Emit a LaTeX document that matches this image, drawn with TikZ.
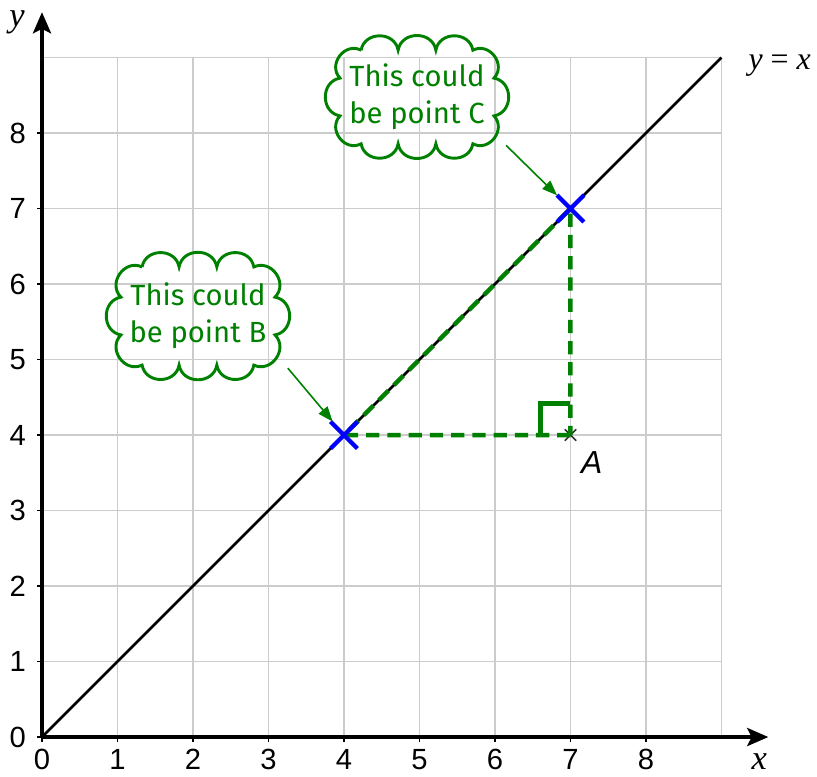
\documentclass[tikz,border=0pt]{standalone}
\usepackage{fontspec}
\setmainfont{Liberation Serif}
\newfontfamily\ticksans{Liberation Sans}
\newfontfamily\notesans{Fira Sans}
\usepackage{tikz}
\usetikzlibrary{arrows.meta, shapes.misc}
\definecolor{notegreen}{RGB}{0,128,0}

% bumpy outline round a note, #1 = node, #2 = half height
\newcommand{\cloudaround}[2]{%
  \draw[cloudline] ([shift={(-0.74,#2)}]#1.center)
    \foreach \cx/\cy in {-0.25/#2, 0.25/#2, 0.74/#2, 1.02/0.25, 1.02/-0.25, 0.74/-#2, 0.25/-#2, -0.25/-#2, -0.74/-#2, -1.02/-0.25, -1.02/0.25, -0.74/#2}
      {to[bend left=80, looseness=1.35] ([shift={(\cx,\cy)}]#1.center)};}

\begin{document}
\begin{tikzpicture}[
    gridline/.style={gray!40, line width=0.6pt},
    axis/.style={line width=1.3pt, -{Stealth[length=2.8mm, width=2.4mm, inset=0.6mm]}},
    ticklabel/.style={font=\ticksans\fontsize{11}{13}\selectfont},
    axislabel/.style={font=\fontsize{13}{15}\selectfont\itshape},
    note/.style={text=notegreen, align=center, font=\notesans\fontsize{11}{14}\selectfont},
    cloudline/.style={draw=notegreen, line width=1.1pt},
    pointer/.style={notegreen, line width=0.6pt, -{Triangle[length=2mm, width=1.5mm]}},
    dashline/.style={notegreen, line width=1.7pt, dash pattern=on 5pt off 3pt},
    bluecross/.style={cross out, draw=blue, line width=1.6pt, minimum size=0.3cm, inner sep=0pt},
    smallcross/.style={cross out, draw=black!80, line width=0.6pt, minimum size=0.13cm, inner sep=0pt}
]
    \useasboundingbox (-0.556,-0.517) rectangle (10.265,9.762);

    % Grid and axes
    \draw[gridline] (0,0) grid (9,9);
    \draw[axis] (0,0) -- (9.62,0);
    \draw[axis] (0,0) -- (0,9.6);
    \foreach \i in {0,...,8} {
        \draw[line width=0.6pt] (\i,0) -- (\i,-0.07);
        \draw[line width=0.6pt] (0,\i) -- (-0.07,\i);
        \node[ticklabel] (xl\i) at (\i,-0.3) {\i};
        \node[ticklabel] (yl\i) at (-0.32,\i) {\i};
    }
    \node[axislabel] (xname) at (9.5,-0.32) {x};
    \node[axislabel] (yname) at (-0.33,9.46) {y};

    % The line y = x
    \draw[line width=0.95pt] (0,0) -- (9,9);
    \node[font=\fontsize{12}{14}\selectfont] (linename) at (9.77,8.89) {\textit{y} = \textit{x}};

    % Points
    \node[smallcross] (ptA) at (7,4) {};
    \node[font=\ticksans\itshape\fontsize{12}{14}\selectfont] (nameA) at (7.28,3.64) {A};

    % Triangle sides and right angle
    \draw[dashline] (ptA.center) -- (4,4) -- (7,7) -- (ptA.center);
    \draw[notegreen, line width=1.7pt] (6.6,4) -- (6.6,4.42) -- (7,4.42);

    \node[bluecross] (ptB) at (4,4) {};
    \node[bluecross] (ptC) at (7,7) {};

    % Notes
    \node[note] (noteC) at (4.967,8.477) {This could\\be point C};
    \cloudaround{noteC}{0.62}
    \node[note] (noteB) at (2.066,5.576) {This could\\be point B};
    \cloudaround{noteB}{0.65}

    \draw[pointer] ([shift={(1.18,-0.64)}]noteC.center) -- (ptC);
    \draw[pointer] ([shift={(1.19,-0.69)}]noteB.center) -- (ptB);

\end{tikzpicture}
\end{document}
